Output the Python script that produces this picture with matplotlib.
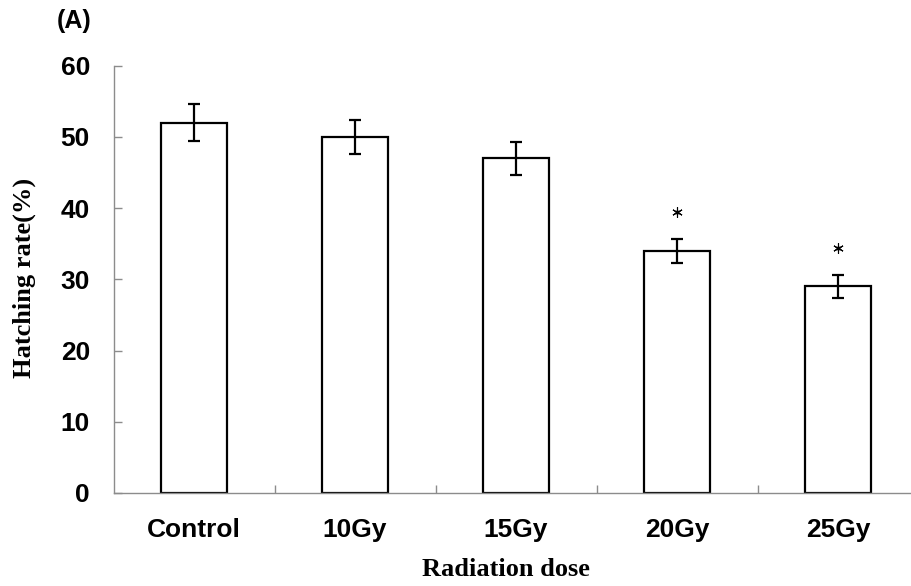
import numpy as np
import matplotlib
matplotlib.use('Agg')
import matplotlib.pyplot as plt

# Hatching rate by radiation dose
doses = ['Control', '10Gy', '15Gy', '20Gy', '25Gy']
hatch_rate = [52.0, 50.0, 47.0, 34.0, 29.0]
hatch_err = [2.6, 2.4, 2.3, 1.7, 1.6]
significant = [False, False, False, True, True]

fig = plt.figure(figsize=(9.11, 5.86), dpi=100)

# axes box in pixels: left 113.5, bottom 93, 161 px per category
W, H = 911.0, 586.0
ax = fig.add_axes([113.5 / W, 93 / H, 805 / W, 427.3 / H])

x = np.arange(len(doses))
ax.bar(x, hatch_rate, width=0.41, color='white', edgecolor='black',
       linewidth=1.6, zorder=2)
ax.errorbar(x, hatch_rate, yerr=hatch_err, fmt='none', ecolor='black',
            elinewidth=1.6, capsize=4, capthick=1.6, zorder=3)

# significance stars above the error bars
for xi, v, e, s in zip(x, hatch_rate, hatch_err, significant):
    if s:
        ax.plot(xi, v + e + 3.8, marker=(6, 2, 0), markersize=7.5,
                markeredgewidth=0.8, color='black', zorder=4)
        ax.plot(xi, v + e + 3.8, marker='o', markersize=2,
                color='black', zorder=5)

ax.set_xlim(-0.5, 4.5)
ax.set_ylim(0, 60)
ax.set_yticks(np.arange(0, 61, 10))
ax.set_xticks(x)
ax.set_xticklabels(doses)

for sp in ['top', 'right']:
    ax.spines[sp].set_visible(False)
for sp in ['left', 'bottom']:
    ax.spines[sp].set_color('#8c8c8c')
    ax.spines[sp].set_linewidth(1.0)

# tick marks between categories on the x axis
ax.set_xticks(np.arange(0.5, 4.5, 1.0), minor=True)
ax.tick_params(axis='x', which='major', length=0, pad=18)
ax.tick_params(axis='x', which='minor', direction='in', length=6,
               color='#8c8c8c', width=1.0)
ax.tick_params(axis='y', direction='in', length=6, color='#8c8c8c',
               width=1.0, pad=17)

for lab in ax.get_xticklabels() + ax.get_yticklabels():
    lab.set_fontfamily('Liberation Sans')
    lab.set_fontweight('bold')
    lab.set_fontsize(19)

fig.text(24 / W, 1 - 278 / H, 'Hatching rate(%)', rotation=90,
         ha='center', va='center', fontfamily='Liberation Serif',
         fontweight='bold', fontsize=19)
fig.text(506 / W, 1 - 570 / H, 'Radiation dose', ha='center', va='center',
         fontfamily='Liberation Serif', fontweight='bold', fontsize=19)
fig.text(57 / W, 1 - 21 / H, '(A)', ha='left', va='center',
         fontfamily='Liberation Sans', fontweight='bold', fontsize=18)

fig.savefig('out.png', dpi=100)
